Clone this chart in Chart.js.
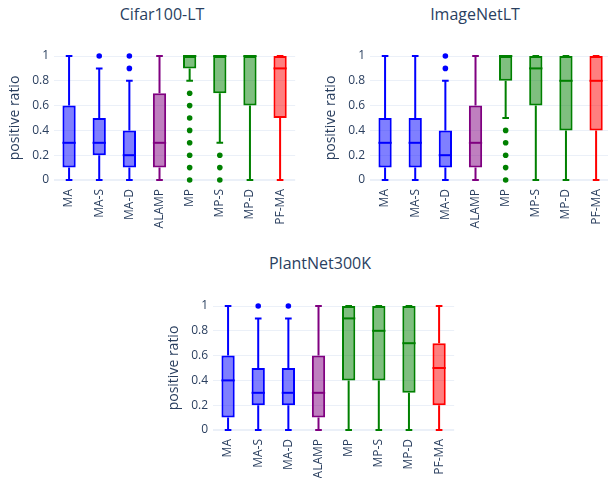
<!DOCTYPE html>
<html>
<head>
<meta charset="utf-8">
<script src="https://cdn.jsdelivr.net/npm/chart.js@4.4.1/dist/chart.umd.min.js"></script>
<style>
  html, body { margin: 0; padding: 0; background: #fff; }
  body { width: 608px; height: 478px; position: relative; overflow: hidden; font-family: "Open Sans", sans-serif; }
  .panel { position: absolute; }
  .title { position: absolute; width: 200px; text-align: center; font-size: 16px; line-height: 20px; color: #2a3f5f; }
</style>
</head>
<body>
<div class="title" style="left:62px; top:4px;">Cifar100-LT</div>
<div class="title" style="left:375px; top:4px;">ImageNetLT</div>
<div class="title" style="left:220px; top:253px;">PlantNet300K</div>
<canvas id="cifarChart" class="panel" width="304" height="240" style="left:0px; top:0px;"></canvas>
<canvas id="imagenetChart" class="panel" width="304" height="240" style="left:316px; top:0px;"></canvas>
<canvas id="plantnetChart" class="panel" width="304" height="240" style="left:159px; top:250px;"></canvas>
<script>
const categories = ['MA', 'MA-S', 'MA-D', 'ALAMP', 'MP', 'MP-S', 'MP-D', 'PF-MA'];
const yTicks = [0, 0.2, 0.4, 0.6, 0.8, 1];

const cifarMin = [0, 0, 0, 0, 0.8, 0.3, 0, 0];
const cifarQ1 = [0.1, 0.2, 0.1, 0.1, 0.9, 0.7, 0.6, 0.5];
const cifarMedian = [0.3, 0.3, 0.2, 0.3, 1, 1, 1, 0.9];
const cifarQ3 = [0.6, 0.5, 0.4, 0.7, 1, 1, 1, 1];
const cifarMax = [1, 0.9, 0.8, 1, 1, 1, 1, 1];
const cifarOutliers = [[], [1], [0.9, 1], [], [0, 0.1, 0.2, 0.3, 0.4, 0.5, 0.6, 0.7], [0, 0.1, 0.2], [], []];

const imagenetMin = [0, 0, 0, 0, 0.5, 0, 0, 0];
const imagenetQ1 = [0.1, 0.1, 0.1, 0.1, 0.8, 0.6, 0.4, 0.4];
const imagenetMedian = [0.3, 0.3, 0.2, 0.3, 1, 0.9, 0.8, 0.8];
const imagenetQ3 = [0.5, 0.5, 0.4, 0.6, 1, 1, 1, 1];
const imagenetMax = [1, 1, 0.8, 1, 1, 1, 1, 1];
const imagenetOutliers = [[], [], [0.9, 1], [], [0, 0.1, 0.2, 0.3, 0.4], [], [], []];

const plantnetMin = [0, 0, 0, 0, 0, 0, 0, 0];
const plantnetQ1 = [0.1, 0.2, 0.2, 0.1, 0.4, 0.4, 0.3, 0.2];
const plantnetMedian = [0.4, 0.3, 0.3, 0.3, 0.9, 0.8, 0.7, 0.5];
const plantnetQ3 = [0.6, 0.5, 0.5, 0.6, 1, 1, 1, 0.7];
const plantnetMax = [1, 0.9, 0.9, 1, 1, 1, 1, 1];
const plantnetOutliers = [[], [1], [1], [], [], [], [], []];

// box colours: blue for MA family, purple ALAMP, green MP family, red PF-MA
const lineColors = ['rgb(0,0,255)', 'rgb(0,0,255)', 'rgb(0,0,255)', 'rgb(128,0,128)',
                    'rgb(0,128,0)', 'rgb(0,128,0)', 'rgb(0,128,0)', 'rgb(255,0,0)'];
const fillColors = ['rgba(0,0,255,0.5)', 'rgba(0,0,255,0.5)', 'rgba(0,0,255,0.5)', 'rgba(128,0,128,0.5)',
                    'rgba(0,128,0,0.5)', 'rgba(0,128,0,0.5)', 'rgba(0,128,0,0.5)', 'rgba(255,0,0,0.5)'];

const textColor = '#2a3f5f';
const gridColor = '#EBF0F8';

// whiskers, caps and median lines, placed with the chart's own scales
const boxWhiskers = {
   id: 'boxWhiskers',
   beforeDatasetsDraw: function (chart) {
      const o = chart.options.plugins.boxWhiskers;
      const y = chart.scales.y;
      const bars = chart.getDatasetMeta(0).data;
      const ctx = chart.ctx;
      ctx.save();
      ctx.lineWidth = 2;
      bars.forEach(function (bar, i) {
         const cap = bar.width / 4;
         ctx.strokeStyle = lineColors[i];
         ctx.beginPath();
         ctx.moveTo(bar.x, y.getPixelForValue(o.q1[i]));
         ctx.lineTo(bar.x, y.getPixelForValue(o.min[i]));
         ctx.moveTo(bar.x, y.getPixelForValue(o.q3[i]));
         ctx.lineTo(bar.x, y.getPixelForValue(o.max[i]));
         ctx.moveTo(bar.x - cap, y.getPixelForValue(o.min[i]));
         ctx.lineTo(bar.x + cap, y.getPixelForValue(o.min[i]));
         ctx.moveTo(bar.x - cap, y.getPixelForValue(o.max[i]));
         ctx.lineTo(bar.x + cap, y.getPixelForValue(o.max[i]));
         ctx.stroke();
      });
      ctx.restore();
   },
   afterDatasetsDraw: function (chart) {
      const o = chart.options.plugins.boxWhiskers;
      const y = chart.scales.y;
      const bars = chart.getDatasetMeta(0).data;
      const ctx = chart.ctx;
      ctx.save();
      ctx.lineWidth = 2;
      bars.forEach(function (bar, i) {
         const my = y.getPixelForValue(o.median[i]);
         ctx.strokeStyle = lineColors[i];
         ctx.beginPath();
         ctx.moveTo(bar.x - bar.width / 2, my);
         ctx.lineTo(bar.x + bar.width / 2, my);
         ctx.stroke();
      });
      ctx.restore();
   }
};

function makeBoxChart(id, min, q1, median, q3, max, outliers) {
   const boxes = categories.map(function (c, i) { return [q1[i], q3[i]]; });
   const points = [];
   const pointColors = [];
   outliers.forEach(function (list, i) {
      list.forEach(function (v) {
         points.push({ x: categories[i], y: v });
         pointColors.push(lineColors[i]);
      });
   });

   return new Chart(document.getElementById(id), {
      type: 'bar',
      data: {
         labels: categories,
         datasets: [{
            data: boxes,
            backgroundColor: fillColors,
            borderColor: lineColors,
            borderWidth: 2,
            borderSkipped: false,
            barPercentage: 0.44,
            categoryPercentage: 1,
            clip: false,
            order: 2
         }, {
            type: 'line',
            data: points,
            showLine: false,
            pointRadius: 2.8,
            pointBorderWidth: 0,
            pointBackgroundColor: pointColors,
            clip: false,
            order: 1
         }]
      },
      options: {
         responsive: false,
         animation: false,
         events: [],
         layout: { padding: { top: 56, right: 8, bottom: 0, left: 0 } },
         plugins: {
            legend: { display: false },
            tooltip: { enabled: false },
            boxWhiskers: { min: min, q1: q1, median: median, q3: q3, max: max }
         },
         scales: {
            x: {
               grid: { display: false, drawTicks: false },
               border: { display: false },
               ticks: { color: textColor, font: { family: 'Open Sans', size: 12 }, minRotation: 90, maxRotation: 90, padding: 9 },
               afterFit: function (s) { s.height = 60; }
            },
            y: {
               min: 0,
               max: 1,
               afterBuildTicks: function (s) { s.ticks = yTicks.map(function (v) { return { value: v }; }); },
               grid: {
                  color: gridColor,
                  drawTicks: false,
                  lineWidth: function (c) { return c.tick && c.tick.value === 0 ? 2 : 1; }
               },
               border: { display: false },
               ticks: {
                  color: textColor,
                  font: { family: 'Open Sans', size: 12 },
                  padding: 5,
                  callback: function (v) { return String(Number(v.toFixed(1))); }
               },
               title: {
                  display: true,
                  text: 'positive ratio',
                  color: textColor,
                  font: { family: 'Open Sans', size: 14 },
                  padding: { top: 7, bottom: 0 }
               },
               afterFit: function (s) { s.width = 54; }
            }
         }
      },
      plugins: [boxWhiskers]
   });
}

makeBoxChart('cifarChart', cifarMin, cifarQ1, cifarMedian, cifarQ3, cifarMax, cifarOutliers);
makeBoxChart('imagenetChart', imagenetMin, imagenetQ1, imagenetMedian, imagenetQ3, imagenetMax, imagenetOutliers);
makeBoxChart('plantnetChart', plantnetMin, plantnetQ1, plantnetMedian, plantnetQ3, plantnetMax, plantnetOutliers);
</script>
</body>
</html>
